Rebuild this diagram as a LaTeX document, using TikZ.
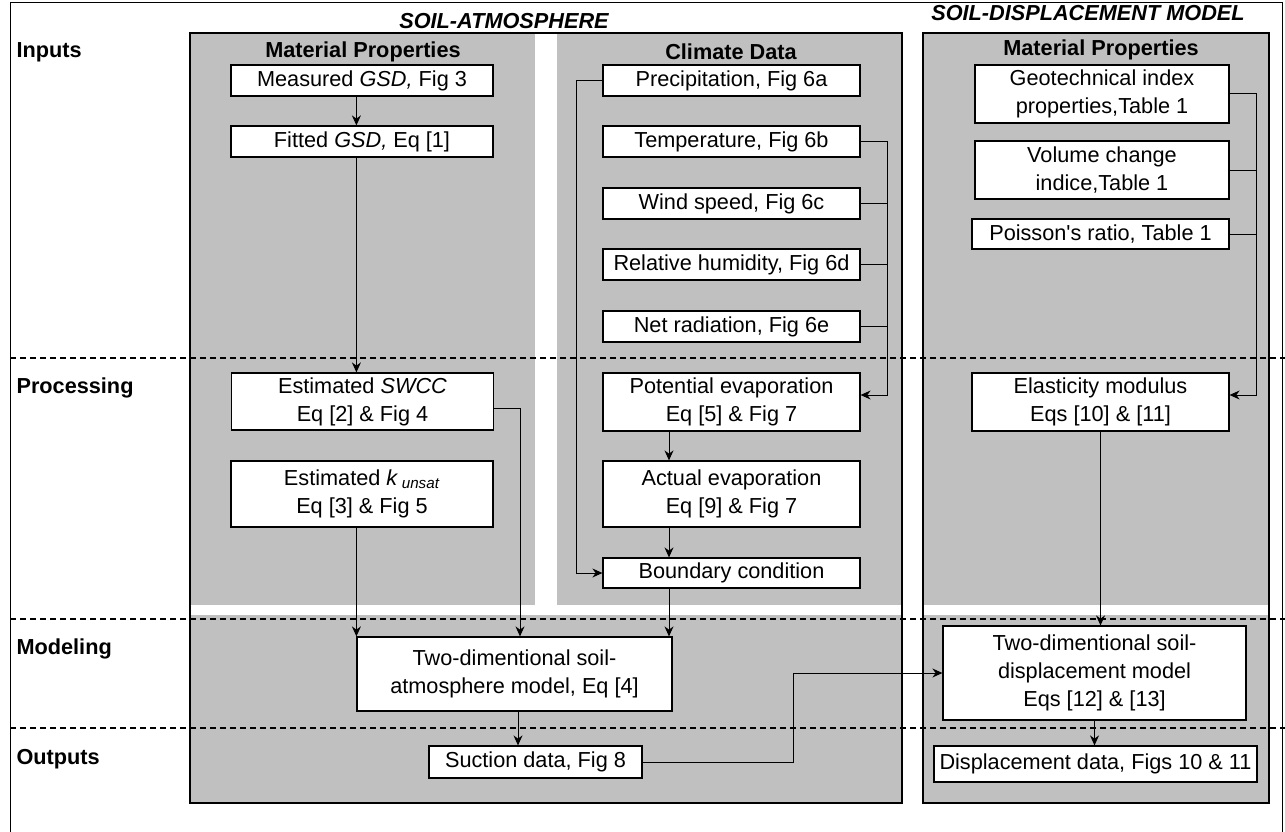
\documentclass[tikz,border=0pt]{standalone}
\usepackage{fontspec}
\setmainfont{Liberation Sans}
\usetikzlibrary{arrows.meta}
\definecolor{panelgray}{RGB}{192,192,192}
\begin{document}
\begin{tikzpicture}[x=1pt,y=-1pt,font=\fontsize{21.7}{28}\selectfont,
  box/.style={draw,fill=white,line width=1.2pt,align=center,inner sep=0pt},
  arr/.style={line width=1pt,-{Stealth[length=10pt,width=9pt]}},
  link/.style={line width=1pt},
  rowline/.style={line width=1.2pt,dash pattern=on 6pt off 4pt},
  rowlabel/.style={anchor=west,font=\fontsize{21.7}{28}\selectfont\bfseries},
  colhead/.style={font=\fontsize{21.7}{28}\selectfont\bfseries},
  head/.style={font=\fontsize{21.7}{28}\selectfont\bfseries\itshape}]
\useasboundingbox (0,0) rectangle (1285,832);
% frame and panels
\draw[line width=1pt] (10,832) -- (10,3) -- (1282,3) -- (1282,832);
\fill[panelgray] (190,33) rectangle (902,803);
\fill[panelgray] (923,33) rectangle (1269,803);
\fill[white] (535,33) rectangle (557,610);
\fill[white] (190,605) rectangle (1269,615);
\draw[line width=1.2pt] (190,33) rectangle (902,803);
\draw[line width=1.2pt] (923,33) rectangle (1269,803);
\foreach \yy in {358,619,728} \draw[rowline] (10,\yy) -- (1285,\yy);
% labels
\node[rowlabel] (inputs) at (13,52) {Inputs};
\node[rowlabel] (processing) at (13,388) {Processing};
\node[rowlabel] (modeling) at (13,649) {Modeling};
\node[rowlabel] (outputs) at (13,759) {Outputs};
\node[head] (atmhead) at (504,21) {SOIL-ATMOSPHERE};
\node[head] (disphead) at (1088,13) {SOIL-DISPLACEMENT MODEL};
\node[colhead] (matleft) at (363,52) {Material Properties};
\node[colhead] (climate) at (731,52) {Climate Data};
\node[colhead] (matright) at (1101,50) {Material Properties};
% soil-atmosphere boxes
\node[box,minimum width=262pt,minimum height=31pt] (msd) at (362,80.5) {Measured \textit{GSD,} Fig 3};
\node[box,minimum width=262pt,minimum height=31pt] (fgsd) at (362,141.5) {Fitted \textit{GSD,} Eq [1]};
\node[box,minimum width=262pt,minimum height=57pt] (swcc) at (362.5,401.5) {Estimated \textit{SWCC}\\Eq [2] \& Fig 4};
\node[box,minimum width=262pt,minimum height=66pt] (kuns) at (362,494) {Estimated \textit{k}\,\textsubscript{\textit{unsat}}\\Eq [3] \& Fig 5};
\node[box,minimum width=257pt,minimum height=31pt] (prec) at (731.5,80.5) {Precipitation, Fig 6a};
\node[box,minimum width=257pt,minimum height=31pt] (temp) at (731.5,141.5) {Temperature, Fig 6b};
\node[box,minimum width=257pt,minimum height=31pt] (wind) at (731.5,203.5) {Wind speed, Fig 6c};
\node[box,minimum width=257pt,minimum height=31pt] (hum) at (731.5,264.5) {Relative humidity, Fig 6d};
\node[box,minimum width=257pt,minimum height=31pt] (nrad) at (731.5,326.5) {Net radiation, Fig 6e};
\node[box,minimum width=257pt,minimum height=58pt] (pevap) at (731.5,402) {Potential evaporation\\Eq [5] \& Fig 7};
\node[box,minimum width=257pt,minimum height=66pt] (aevap) at (731.5,494) {Actual evaporation\\Eq [9] \& Fig 7};
\node[box,minimum width=257pt,minimum height=30pt] (bcond) at (731.5,573) {Boundary condition};
\node[box,minimum width=315pt,minimum height=74pt] (atm) at (514.5,674) {Two-dimentional soil-\\atmosphere model, Eq [4]};
\node[box,minimum width=213pt,minimum height=32pt] (suct) at (535.5,762) {Suction data, Fig 8};
% soil-displacement boxes
\node[box,minimum width=254pt,minimum height=58pt] (geo) at (1102,94) {Geotechnical index\\properties,Table 1};
\node[box,minimum width=254pt,minimum height=58pt] (vol) at (1102,170) {Volume change\\indice,Table 1};
\node[box,minimum width=257pt,minimum height=30pt] (pois) at (1100.5,234) {Poisson\textquotesingle s ratio, Table 1};
\node[box,minimum width=257pt,minimum height=58pt] (emod) at (1100.5,402) {Elasticity modulus\\Eqs [10] \& [11]};
\node[box,minimum width=303pt,minimum height=94pt] (dmod) at (1094.5,673) {Two-dimentional soil-\\displacement model\\Eqs [12] \& [13]};
\node[box,minimum width=323pt,minimum height=36pt] (ddata) at (1095.5,764) {Displacement data, Figs 10 \& 11};
% connectors
\coordinate (bx) at (669,0);
\coordinate (sx) at (518,0);
\draw[arr] (msd.south -| atm.north west) -- (fgsd.north -| atm.north west);
\draw[arr] (fgsd.south -| atm.north west) -- (swcc.north -| atm.north west);
\draw[arr] (kuns.south -| atm.north west) -- (atm.north west);
\draw[arr] ([yshift=-7pt]swcc.east) -| ([xshift=5.5pt]atm.north);
\draw[arr] (prec.west) -- ++(-26,0) |- (bcond.west);
\draw[arr] (temp.east) -- ++(27,0) coordinate (tr) |- ([yshift=7pt]pevap.east);
\foreach \n in {wind,hum,nrad} \draw[link] (\n.east) -- (\n.east -| tr);
\draw[arr] (pevap.south -| bx) -- (aevap.north -| bx);
\draw[arr] (aevap.south -| bx) -- (bcond.north -| bx);
\draw[arr] (bcond.south -| bx) -- (atm.north -| bx);
\draw[arr] (atm.south -| sx) -- (suct.north -| sx);
\draw[arr] (suct.east) -- ++(151,0) |- (dmod.west);
\draw[arr] (geo.east) -- ++(27,0) coordinate (gr) |- ([yshift=7pt]emod.east);
\foreach \n in {vol,pois} \draw[link] (\n.east) -- (\n.east -| gr);
\draw[arr] (emod.south) -- (emod.south |- dmod.north);
\draw[arr] (dmod.south) -- (dmod.south |- ddata.north);
\end{tikzpicture}
\end{document}
